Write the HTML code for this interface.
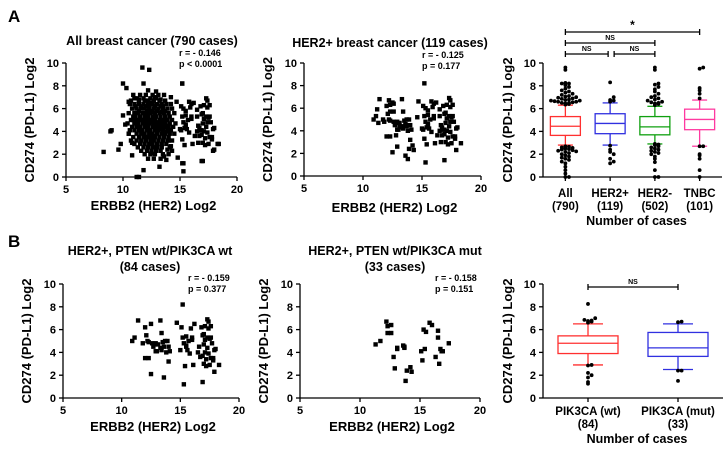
<!DOCTYPE html>
<html><head><meta charset="utf-8"><style>
html,body{margin:0;padding:0;background:#fff}
svg{display:block;font-family:"Liberation Sans",Arial,sans-serif;font-weight:bold}
</style></head><body>
<svg id="fig" width="726" height="449" viewBox="0 0 726 449"></svg>
<script>
// ---------- data ----------
const b1Points = [[10.9,5.0],[11.1,5.3],[11.4,6.8],[11.8,4.8],[12.0,6.2],[12.1,5.5],[12.0,3.5],[12.3,3.5],[12.3,4.9],[12.5,6.5],[12.6,4.8],[12.5,2.1],[12.7,4.5],[12.8,4.7],[12.9,4.8],[13.0,4.1],[13.1,4.7],[13.3,6.8],[13.3,4.4],[13.4,4.2],[13.4,5.7],[13.5,4.9],[13.6,1.8],[13.7,5.0],[13.8,4.0],[13.9,5.0],[14.0,3.2],[14.1,4.1],[14.7,6.6],[15.0,4.2],[15.1,6.2],[15.2,8.2],[15.2,5.3],[15.3,1.2],[15.4,2.8],[15.5,5.4],[15.5,4.6],[15.6,4.2],[15.7,5.0],[15.8,3.9],[15.9,6.1],[16.0,5.3],[16.1,2.9],[16.2,6.5],[16.5,4.0],[16.8,6.2],[16.9,5.5],[16.9,3.7],[17.0,3.0],[17.0,4.7],[17.1,6.3],[17.1,5.1],[17.2,3.4],[17.2,2.8],[17.3,6.9],[17.3,5.3],[17.4,6.1],[17.4,3.9],[17.5,5.2],[17.5,2.9],[17.6,6.3],[17.6,3.5],[17.7,4.8],[17.8,3.3],[17.9,2.3],[18.0,4.3],[18.3,2.9],[16.9,1.4],[16.6,4.5],[17.0,5.6],[17.3,4.4],[15.3,4.8],[14.0,4.5],[12.9,4.1],[17.6,5.3],[17.8,3.5],[16.7,3.6],[17.1,4.0],[12.2,5.0],[13.6,4.5],[15.5,4.5],[17.4,6.7],[17.9,4.2],[16.0,5.1]];
const b2Points = [[11.3,4.7],[11.7,5.0],[12.2,6.7],[12.3,6.3],[12.6,6.4],[12.3,5.7],[12.6,5.7],[12.8,3.6],[12.9,2.6],[13.1,4.3],[13.1,4.4],[13.6,4.6],[13.7,4.4],[13.7,4.5],[13.9,2.4],[13.8,1.5],[14.2,2.7],[14.3,2.3],[15.1,4.1],[15.2,3.3],[15.3,6.0],[15.4,4.3],[15.5,5.8],[15.8,6.6],[16.0,6.4],[16.3,3.6],[16.5,5.3],[16.5,5.9],[16.7,4.3],[16.6,3.0],[16.8,4.1],[16.9,4.1],[17.4,4.8]];
const a2Extra = [[11.2,5.9],[14.6,5.2]];
const a1Outer = [[8.3,2.2],[8.9,4.0],[9.0,4.1],[9.6,2.4],[9.8,2.9],[10.0,8.2],[10.3,7.8],[10.0,5.4],[10.5,3.8],[10.8,1.9],[11.2,0],[11.4,0],[11.7,9.6],[12.3,9.4],[11.8,8.2],[12.2,7.6],[12.8,7.0],[13.5,6.2],[14.2,7.0],[14.0,2.0],[13.2,0.9],[11.8,0.6],[15.2,8.2],[15.2,1.2],[15.3,0.5],[17.0,1.4],[18.0,2.4],[18.4,2.9],[14.8,1.7],[10.5,6.6],[10.2,4.6],[11.0,6.9],[10.8,3.0],[12.9,7.5],[13.6,7.2]];
const a1ClusterRows = [
 [7.2,[10.9,11.5,12.0,12.6,13.1]],
 [6.9,[11.2,11.8,12.4,12.9]],
 [6.7,[10.7,11.4,11.9,12.2,12.7,13.2,13.7]],
 [6.4,[10.6,11.0,11.4,11.8,12.2,12.6,13.0,13.4,13.8,14.2]],
 [6.2,[11.1,11.6,12.1,12.8,13.3]],
 [6.0,[10.8,11.2,11.6,11.9,12.3,12.7,13.1,13.5,13.9,14.3]],
 [5.8,[11.4,12.1,12.5,13.0,13.7]],
 [5.6,[10.5,11.0,11.3,11.7,12.0,12.4,12.8,13.2,13.6,14.0,14.5]],
 [5.3,[10.9,11.5,11.9,12.2,12.6,12.9,13.3,13.7,14.1]],
 [5.0,[10.7,11.1,11.4,11.8,12.1,12.5,12.8,13.2,13.5,13.9,14.3]],
 [4.7,[10.4,11.0,11.3,11.7,12.0,12.3,12.7,13.0,13.4,13.7,14.1,14.6]],
 [4.4,[10.8,11.2,11.5,11.9,12.2,12.6,12.9,13.3,13.6,14.0,14.4]],
 [4.1,[10.6,11.0,11.4,11.7,12.1,12.4,12.8,13.1,13.5,13.9,14.2]],
 [3.8,[10.5,11.2,11.6,11.9,12.3,12.6,13.0,13.4,13.7,14.1,14.5]],
 [3.5,[10.9,11.4,11.8,12.1,12.5,12.8,13.2,13.6,14.0]],
 [3.2,[10.7,11.2,11.6,12.0,12.4,12.7,13.1,13.5,13.9,14.3]],
 [2.9,[11.0,11.5,11.9,12.3,12.6,13.0,13.4,13.8]],
 [2.6,[11.3,11.8,12.2,12.6,13.0,13.4,14.1]],
 [2.3,[11.6,12.1,12.5,12.9,13.3]],
 [2.0,[11.9,12.4,12.8,13.5]],
 [1.6,[12.2,12.7,13.3]]
];
const xTicks = [5,10,15,20];
const yTicks = [0,2,4,6,8,10];

const boxCatsA = ["All","HER2+","HER2-","TNBC"];
const boxNsA = ["(790)","(119)","(502)","(101)"];
const boxColorsA = ["#ff3030","#3030e0","#10a010","#ff3aa0"];
// [whiskerLow, q1, median, q3, whiskerHigh]
const boxStatsA = [[2.8,3.65,4.45,5.3,6.3],[2.8,3.8,4.7,5.55,6.5],[2.9,3.7,4.4,5.3,6.2],[2.7,4.15,5.05,5.95,6.75]];
const outliersA = [
 [6.35,6.4,6.45,6.5,6.5,6.55,6.6,6.6,6.65,6.7,6.7,6.75,6.8,6.85,6.9,6.95,7.0,7.05,7.1,7.2,7.3,7.4,7.5,7.6,7.75,7.9,8.05,8.2,8.25,8.2,9.4,9.6,
  2.7,2.65,2.6,2.55,2.5,2.45,2.4,2.35,2.3,2.25,2.2,2.1,2.0,1.9,1.8,1.7,1.6,1.5,1.35,1.2,0.9,0.6,0.3,0,0],
 [6.6,6.7,6.75,7.0,8.3,2.75,2.4,2.2,2.0,1.6,1.35,1.2],
 [6.3,6.4,6.45,6.5,6.55,6.6,6.7,6.8,6.9,7.0,7.1,7.3,7.5,7.7,7.9,8.1,8.2,9.4,9.6,
  2.9,2.85,2.8,2.7,2.6,2.5,2.4,2.3,2.2,2.1,2.0,1.8,1.6,1.3,0.6,0,0],
 [6.9,7.3,7.6,7.8,9.5,9.6,2.7,2.7,2.0,1.9,1.6,0.6,0]
];
const boxCatsB = ["PIK3CA (wt)","PIK3CA (mut)"];
const boxNsB = ["(84)","(33)"];
const boxColorsB = ["#ff3030","#3030e0"];
const boxStatsB = [[2.9,3.9,4.8,5.45,6.5],[2.5,3.65,4.4,5.75,6.5]];
const outliersB = [[6.6,6.7,6.75,6.8,6.85,7.0,8.25,2.85,2.9,2.2,2.0,1.8,1.4,1.25],[6.65,6.7,2.4,2.4,1.5]];

// ---------- helpers ----------
const NS="http://www.w3.org/2000/svg";
const svg=document.getElementById('fig');
function el(tag,attrs,parent){const e=document.createElementNS(NS,tag);for(const k in attrs)e.setAttribute(k,attrs[k]);(parent||svg).appendChild(e);return e;}
function txt(s,x,y,size,anchor,parent,rot){const t=el('text',{x:x,y:y,'font-size':size,'text-anchor':anchor||'middle',fill:'#000'},parent);if(rot)t.setAttribute('transform','rotate(-90 '+x+' '+y+')');t.textContent=s;return t;}
function lin(x1,y1,x2,y2,col,w,parent){return el('line',{x1:x1,y1:y1,x2:x2,y2:y2,stroke:col||'#000','stroke-width':w||1.3},parent);}

function yAxis(g,x0,yTop,yBot,title,titleX){
  const ys=v=>yBot-(v/10)*(yBot-yTop);
  lin(x0,yTop,x0,yBot,'#000',1.3,g);
  yTicks.forEach(v=>{lin(x0-4,ys(v),x0,ys(v),'#000',1.3,g);txt(String(v),x0-7,ys(v)+4,11,'end',g);});
  const t=txt(title,titleX,(yTop+yBot)/2,13,'middle',g,true);
  
  return ys;
}

function scatter(name,x0,x1,yTop,yBot,points,title1,title2,tx,ty,rText,pText,rx,ry,xlabY){
  const g=el('g',{});
  
  
  const xs=v=>x0+(v-5)/15*(x1-x0);
  const ys=yAxis(g,x0,yTop,yBot,'CD274 (PD-L1) Log2',x0-32);
  lin(x0,yBot,x1,yBot,'#000',1.3,g);
  xTicks.forEach(v=>{lin(xs(v),yBot,xs(v),yBot+4,'#000',1.3,g);txt(String(v),xs(v),yBot+16,11,'middle',g);});
  const xl=txt('ERBB2 (HER2) Log2',(x0+x1)/2+2,xlabY,13,'middle',g);
  
  const t1=txt(title1,tx,ty,12.5,'middle',g);
  
  if(title2){txt(title2,tx,ty+16,12.5,'middle',g);}
  txt(rText,rx,ry,9,'start',g);txt(pText,rx,ry+11,9,'start',g);
  points.forEach(p=>{
    const r=el('rect',{x:xs(p[0])-2.2,y:ys(p[1])-2.2,width:4.4,height:4.4,fill:'#000'},g);
    
    
  });
}

function swarm(vals){
  const groups={};const out=[];
  vals.forEach(v=>{const k=Math.round(v/0.3);(groups[k]=groups[k]||[]).push(v);});
  Object.values(groups).forEach(arr=>arr.forEach((v,i)=>{const off=(i===0?0:(i%2?1:-1)*Math.ceil(i/2))*3.6;out.push([off,v]);}));
  return out;
}

function boxplot(name,x0,x1,yTop,yBot,cats,ns,colors,stats,outs,bw,labY){
  const g=el('g',{});
  
  
  const ys=yAxis(g,x0,yTop,yBot,'CD274 (PD-L1) Log2',x0-31);
  lin(x0,yBot,x1,yBot,'#000',1.3,g);
  const step=(x1-x0)/cats.length;
  const cx=i=>x0+step*(i+0.5);
  cats.forEach((c,i)=>{
    const s=stats[i],col=colors[i],x=cx(i);
    lin(x,yBot,x,yBot+4,'#000',1.3,g);
    const bg=el('g',{},g);
    
    
    lin(x,ys(s[0]),x,ys(s[1]),col,1.3,bg);lin(x,ys(s[3]),x,ys(s[4]),col,1.3,bg);
    lin(x-bw/4,ys(s[0]),x+bw/4,ys(s[0]),col,1.3,bg);lin(x-bw/4,ys(s[4]),x+bw/4,ys(s[4]),col,1.3,bg);
    el('rect',{x:x-bw/2,y:ys(s[3]),width:bw,height:ys(s[1])-ys(s[3]),fill:'none',stroke:col,'stroke-width':1.3},bg);
    lin(x-bw/2,ys(s[2]),x+bw/2,ys(s[2]),col,1.3,bg);
    swarm(outs[i]).forEach(p=>{
      const d=el('circle',{cx:x+p[0],cy:ys(p[1]),r:1.9,fill:'#000'},bg);
      
      
    });
    txt(c,x,labY,11.5,'middle',g);txt(ns[i],x,labY+13,11.5,'middle',g);
  });
  const xl=txt('Number of cases',(x0+x1)/2+4,labY+28,12.5,'middle',g);
  
  return {cx:cx,g:g};
}
function sigBar(g,xa,xb,y,label,size){
  lin(xa,y,xb,y,'#000',1.3,g);lin(xa,y-3,xa,y+3,'#000',1.3,g);lin(xb,y-3,xb,y+3,'#000',1.3,g);
  const t=txt(label,(xa+xb)/2,y-3,size,'middle',g);
  
}

// ---------- panels ----------
const pa=txt('A',8,22,17,'start');
const pb=txt('B',8,247,17,'start');

let a1=[...a1Outer,...b1Points,...b2Points];
a1ClusterRows.forEach(r=>r[1].forEach(x=>a1.push([x,r[0]])));
scatter('scatter-all-breast-cancer',66,237,63,177,a1,'All breast cancer  (790 cases)',null,152,45,'r = - 0.146','p < 0.0001',179,56,210);
scatter('scatter-her2-positive',304,481,63,176,[...b1Points,...b2Points,...a2Extra],'HER2+ breast cancer (119 cases)',null,390,47,'r = - 0.125','p =  0.177',422,58,212);
scatter('scatter-pik3ca-wt',63,239,284,398,b1Points,'HER2+, PTEN wt/PIK3CA wt','(84 cases)',150,255,'r = - 0.159','p =  0.377',188,281,431);
scatter('scatter-pik3ca-mut',300,480,284,398,b2Points,'HER2+, PTEN wt/PIK3CA mut','(33 cases)',395,255,'r = - 0.158','p =  0.151',435,281,431);

const bA=boxplot('boxplot-subtypes',543,722,63,177,boxCatsA,boxNsA,boxColorsA,boxStatsA,outliersA,30,197);
sigBar(bA.g,bA.cx(0),bA.cx(3),32,'*',12);
sigBar(bA.g,bA.cx(0),bA.cx(2),43,'NS',7);
sigBar(bA.g,bA.cx(0),bA.cx(1)-2,54,'NS',7);
sigBar(bA.g,bA.cx(1)+4,bA.cx(2),54,'NS',7);
const bB=boxplot('boxplot-pik3ca',543,723,284,398,boxCatsB,boxNsB,boxColorsB,boxStatsB,outliersB,60,415);
sigBar(bB.g,bB.cx(0),bB.cx(1),287,'NS',7);
</script>
</body></html>
